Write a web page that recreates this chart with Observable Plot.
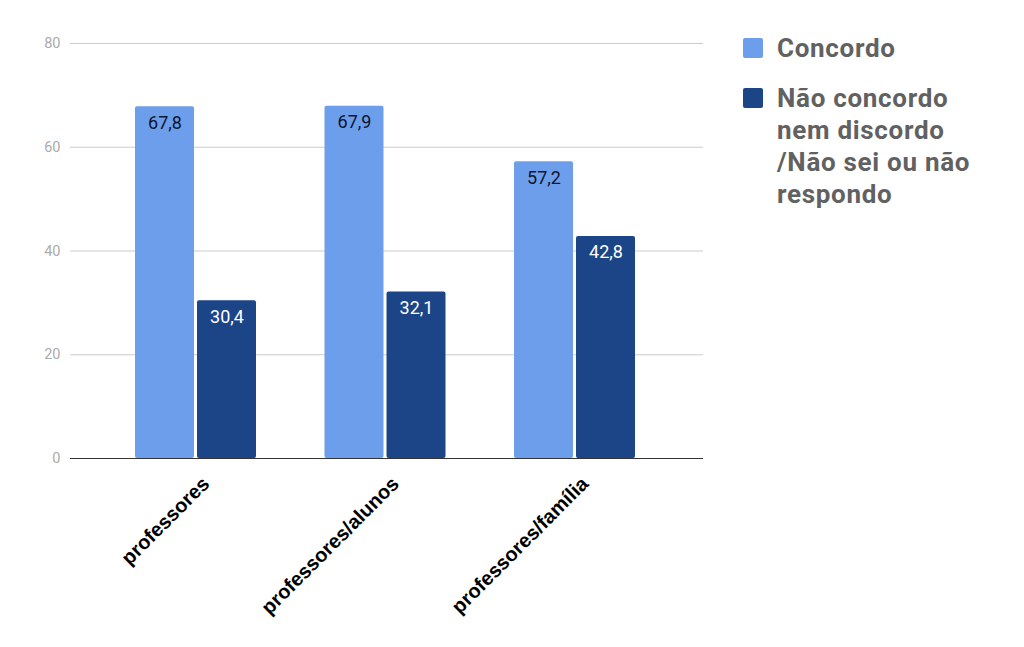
<!DOCTYPE html>
<html><head><meta charset="utf-8">
<script src="https://cdn.jsdelivr.net/npm/d3@7"></script>
<script src="https://cdn.jsdelivr.net/npm/@observablehq/plot@0.6"></script>
<style>
body{margin:0;background:#fff;font-family:Roboto,"Noto Sans",sans-serif;}
#wrap{position:relative;width:1024px;height:647px;overflow:hidden;}
#legend{position:absolute;left:743px;top:32px;}
.item{display:flex;align-items:flex-start;margin-bottom:18px;}
.sw{width:20px;height:20px;border-radius:2px;margin-top:6px;margin-right:14px;flex:none;}
.lab{font-size:26px;font-weight:700;line-height:32px;letter-spacing:0.7px;color:#616161;white-space:nowrap;}
</style></head><body>
<div id="wrap"><div id="chart"></div><div id="legend"></div></div>
<script>
const categories = ["professores", "professores/alunos", "professores/família"];
const series = ["Concordo", "Não concordo nem discordo /Não sei ou não respondo"];
const legendLines = [["Concordo"], ["Não concordo", "nem discordo", "/Não sei ou não", "respondo"]];
const concordo = [67.8, 67.9, 57.2];
const naoConcordo = [30.4, 32.1, 42.8];
const yTicks = [0, 20, 40, 60, 80];
const colors = ["#6d9eeb", "#1c4587"];

const A = categories.map((c, i) => ({category: c, series: series[0], value: concordo[i]}));
const B = categories.map((c, i) => ({category: c, series: series[1], value: naoConcordo[i]}));
const fmt = v => v.toFixed(1).replace(".", ",");

const chart = Plot.plot({
  width: 1024, height: 647,
  marginLeft: 70, marginRight: 1024 - 703, marginTop: 43, marginBottom: 189,
  x: {domain: categories, range: [70, 700], paddingInner: 0.3615, paddingOuter: 0.343, round: false, axis: null},
  y: {domain: [0, 80], axis: null},
  style: {fontFamily: "Roboto, sans-serif", background: "#fff"},
  marks: [
    Plot.ruleY(yTicks.filter(d => d > 0), {stroke: "#cccccc", strokeWidth: 1}),
    Plot.axisY({ticks: yTicks, tickSize: 0, tickPadding: 10, fontSize: 14.5, color: "#ababab", label: null}),
    Plot.barY(A, {x: "category", y: "value", fill: colors[0], insetRight: 62, rx: 2}),
    Plot.barY(B, {x: "category", y: "value", fill: colors[1], insetLeft: 62, rx: 2}),
    Plot.ruleY([0], {stroke: "#333333", strokeWidth: 1.2}),
    Plot.text(A, {x: "category", y: "value", text: d => fmt(d.value), dx: -31, dy: 9, lineAnchor: "top", fill: "#0a1530", fontSize: 18}),
    Plot.text(B, {x: "category", y: "value", text: d => fmt(d.value), dx: 31, dy: 9, lineAnchor: "top", fill: "#ffffff", fontSize: 18}),
    Plot.text(categories, {x: d => d, frameAnchor: "bottom", text: d => d, rotate: -45, textAnchor: "end", lineAnchor: "middle",
      dx: 10, dy: 22, fontSize: 20, fontWeight: "bold", fontFamily: "'Liberation Sans', Arial, sans-serif", fill: "#000"})
  ]
});
document.getElementById("chart").appendChild(chart);

const legend = document.getElementById("legend");
series.forEach((s, i) => {
  const item = document.createElement("div");
  item.className = "item";
  const sw = document.createElement("span");
  sw.className = "sw";
  sw.style.background = colors[i];
  const lab = document.createElement("span");
  lab.className = "lab";
  lab.innerHTML = legendLines[i].join("<br>");
  item.appendChild(sw); item.appendChild(lab);
  legend.appendChild(item);
});
</script>
</body></html>
